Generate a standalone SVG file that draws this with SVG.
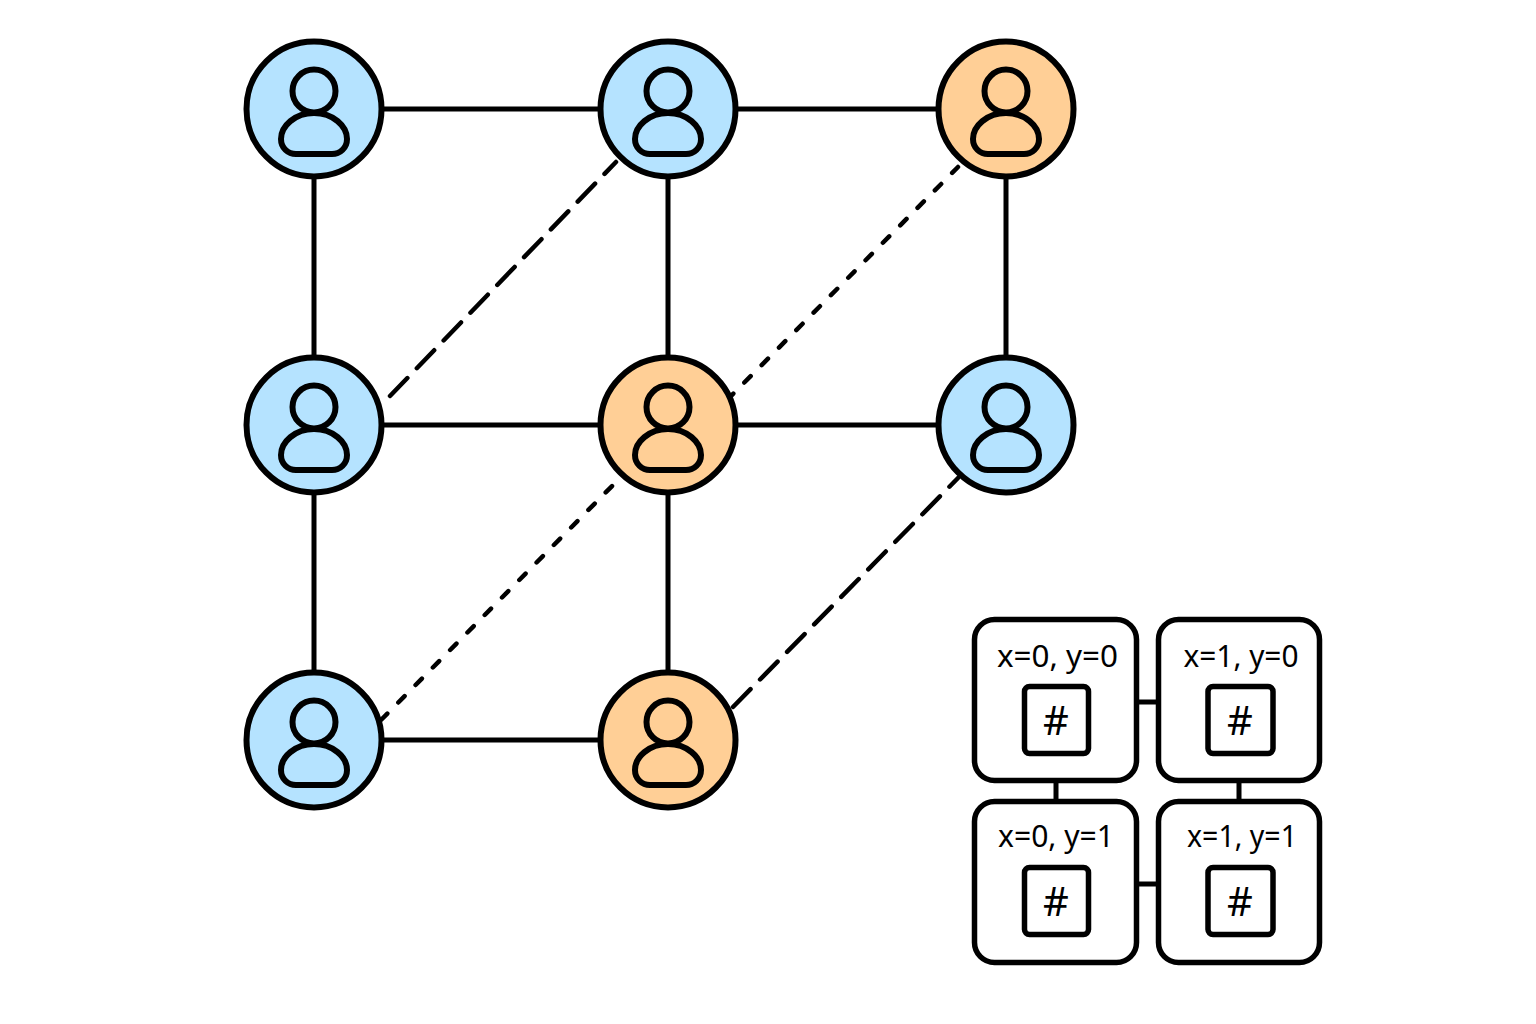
<svg xmlns="http://www.w3.org/2000/svg" xmlns:xlink="http://www.w3.org/1999/xlink" width="1536" height="1024" viewBox="0 0 1536 1024">
<style>
.ln{stroke:#000;stroke-width:5;fill:none}
.dl{stroke-width:4.5;stroke-linecap:round}
.long{stroke-dasharray:25 13.6}
.short{stroke-dasharray:9 15.6}
.nd{stroke:#000;stroke-width:6}
.blue{fill:#b5e3ff}
.orange{fill:#ffcf96}
.ic{fill:none;stroke:#000;stroke-width:6;stroke-linejoin:round}
.bx{fill:#fff;stroke:#000;stroke-width:5.5}
.t{font-family:"Noto Sans",sans-serif;font-size:30.5px;fill:#000;text-anchor:middle}
.h{font-family:"Noto Sans",sans-serif;font-size:40px;fill:#000;text-anchor:middle}
</style>
<defs>
<g id="person">
<circle class="ic" cx="0" cy="-18" r="21.5"/>
<path class="ic" d="M-18 45H18C26 45 33 39 33 30C33 17 19 4 0 4C-19 4-33 17-33 30C-33 39-26 45-18 45Z"/>
</g>
</defs>
<rect width="1536" height="1024" fill="#fff"/>
<g id="connectors">
<path class="ln" d="M314 109H668M668 109H1006M314 425H1006M314 740H668M314 109V740M668 109V740M1006 109V425"/>
<path class="ln dl long" d="M390 396L616 162"/>
<path class="ln dl long" d="M733 707L958 478"/>
<path class="ln dl short" d="M381 720L618 480"/>
<path class="ln dl short" d="M727 400L958 167"/>
<path class="ln" d="M1136 702H1158M1136 884H1158M1056 781V801M1239 781V801"/>
</g>
<g id="n1"><circle class="nd blue" cx="314" cy="109" r="67.5"/><use xlink:href="#person" href="#person" x="314" y="109"/></g>
<g id="n2"><circle class="nd blue" cx="668" cy="109" r="67.5"/><use xlink:href="#person" href="#person" x="668" y="109"/></g>
<g id="n3"><circle class="nd orange" cx="1006" cy="109" r="67.5"/><use xlink:href="#person" href="#person" x="1006" y="109"/></g>
<g id="n4"><circle class="nd blue" cx="314" cy="425" r="67.5"/><use xlink:href="#person" href="#person" x="314" y="425"/></g>
<g id="n5"><circle class="nd orange" cx="668" cy="425" r="67.5"/><use xlink:href="#person" href="#person" x="668" y="425"/></g>
<g id="n6"><circle class="nd blue" cx="1006" cy="425" r="67.5"/><use xlink:href="#person" href="#person" x="1006" y="425"/></g>
<g id="n7"><circle class="nd blue" cx="314" cy="740" r="67.5"/><use xlink:href="#person" href="#person" x="314" y="740"/></g>
<g id="n8"><circle class="nd orange" cx="668" cy="740" r="67.5"/><use xlink:href="#person" href="#person" x="668" y="740"/></g>
<g id="cell00"><rect class="bx" x="974.5" y="619.5" width="162" height="161" rx="20"/><text class="t" x="1057.5" y="667" textLength="121" lengthAdjust="spacingAndGlyphs">x=0, y=0</text><rect class="bx" x="1024.5" y="686.5" width="64" height="67" rx="5"/><text class="h" x="1056" y="735">#</text></g>
<g id="cell10"><rect class="bx" x="1158.5" y="619.5" width="161" height="161" rx="20"/><text class="t" x="1241" y="667" textLength="115" lengthAdjust="spacingAndGlyphs">x=1, y=0</text><rect class="bx" x="1208" y="686.5" width="65" height="67" rx="5"/><text class="h" x="1240" y="735">#</text></g>
<g id="cell01"><rect class="bx" x="974.5" y="801.5" width="162" height="161" rx="20"/><text class="t" x="1056" y="847" textLength="116" lengthAdjust="spacingAndGlyphs">x=0, y=1</text><rect class="bx" x="1024.5" y="867.5" width="64" height="67" rx="5"/><text class="h" x="1056" y="916">#</text></g>
<g id="cell11"><rect class="bx" x="1158.5" y="801.5" width="161" height="161" rx="20"/><text class="t" x="1242" y="847" textLength="110" lengthAdjust="spacingAndGlyphs">x=1, y=1</text><rect class="bx" x="1208" y="867.5" width="65" height="67" rx="5"/><text class="h" x="1240" y="916">#</text></g>
</svg>
